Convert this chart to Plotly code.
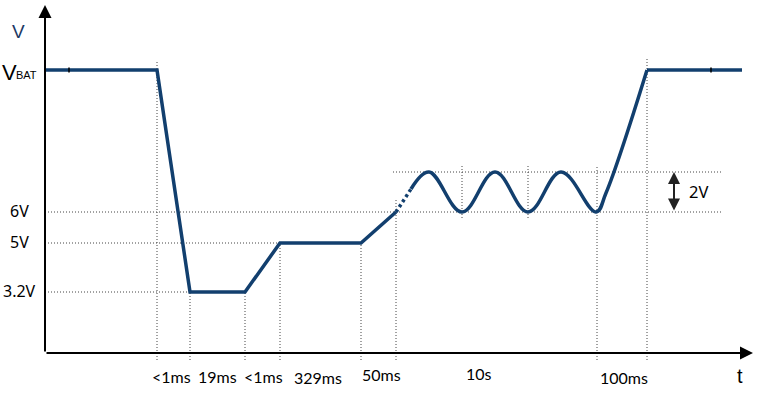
import plotly.graph_objects as go

# ---- schematic data (not to scale: x = time marker positions, y = level heights) ----
seg_labels = ["<1ms", "19ms", "<1ms", "329ms", "50ms", "10s", "100ms"]
seg_label_x = [126, 172, 218, 273, 336, 434, 579]
seg_label_y = [-23, -23, -23, -24.5, -21.5, -20.5, -24]
level_labels = ["3.2V", "5V", "6V"]
level_values = [61, 110, 141]
vbat_level = 283
ripple_top = 181
marker_x = [112, 145, 200, 235, 316, 351, 417, 483, 552, 602]

signal_x = [0, 112, 145, 200, 235, 316, 351]
signal_y = [283, 283, 61, 61, 110, 110, 141]
bridge_x = [351, 366]
bridge_y = [141, 164]
ripple_x = [366, 384, 417, 450, 483, 516, 551, 561, 602]
ripple_y = [164, 181, 141, 181, 141, 181, 141, 160, 283]
recovery_x = [602, 697]
recovery_y = [283, 283]

LINE = "#123f6e"
GRID = "#444444"
DOT = "1px,2px"

fig = go.Figure()
fig.add_trace(go.Scatter(x=signal_x, y=signal_y, mode="lines",
                         line=dict(color=LINE, width=3.5), hoverinfo="skip"))
fig.add_trace(go.Scatter(x=bridge_x, y=bridge_y, mode="lines",
                         line=dict(color=LINE, width=3.5, dash="3px,3px"), hoverinfo="skip"))
fig.add_trace(go.Scatter(x=ripple_x, y=ripple_y, mode="lines",
                         line=dict(color=LINE, width=3.5, shape="spline", smoothing=1.1),
                         hoverinfo="skip"))
fig.add_trace(go.Scatter(x=recovery_x, y=recovery_y, mode="lines",
                         line=dict(color=LINE, width=3.5), hoverinfo="skip"))

shapes = []
def dline(x0, y0, x1, y1):
    shapes.append(dict(type="line", x0=x0, y0=y0, x1=x1, y1=y1, layer="below",
                       line=dict(color=GRID, width=1, dash=DOT)))

# horizontal guides
dline(0, level_values[0], marker_x[1], level_values[0])
dline(0, level_values[1], marker_x[4], level_values[1])
dline(0, level_values[2], 677, level_values[2])
dline(348, ripple_top, 677, ripple_top)

# vertical guides (top end, bottom end)
vert_tops = [293, 61, 61, 110, 110, 155, 188, 188, 188, 294]
vert_bots = [-7, -7, -7, -7, -7, -7, 135, 135, -7, -7]
for xm, yt, yb in zip(marker_x, vert_tops, vert_bots):
    dline(xm, yb, xm, yt)

# small ticks on VBAT line
for xt in [24, 666]:
    shapes.append(dict(type="line", x0=xt, x1=xt, y0=vbat_level - 2.5, y1=vbat_level + 2.5,
                       line=dict(color="black", width=1.5)))

ann = []
# axes with arrows
ann.append(dict(x=0, y=348, ax=0, ay=0, xref="x", yref="y", axref="x", ayref="y",
                showarrow=True, arrowhead=2, arrowsize=1.3, arrowwidth=2, arrowcolor="black",
                text=""))
ann.append(dict(x=708, y=0, ax=0, ay=0, xref="x", yref="y", axref="x", ayref="y",
                showarrow=True, arrowhead=2, arrowsize=1.3, arrowwidth=2, arrowcolor="black",
                text=""))
# 2V double arrow
ann.append(dict(x=629, y=ripple_top, ax=629, ay=level_values[2], xref="x", yref="y",
                axref="x", ayref="y", showarrow=True, arrowhead=2, arrowside="end+start",
                arrowsize=1.2, arrowwidth=2, arrowcolor="#222222", text=""))
ann.append(dict(x=653, y=162, xref="x", yref="y", text="2V", showarrow=False,
                font=dict(family="Noto Sans", size=16.5, color="black")))

FONT_LBL = dict(family="Lato", size=16, color="black")
for t, xl, yl in zip(seg_labels, seg_label_x, seg_label_y):
    ann.append(dict(x=xl, y=yl, xref="x", yref="y", text=t, showarrow=False, font=FONT_LBL))

for t, yl in zip(level_labels, level_values):
    ann.append(dict(x=-26, y=yl + 1, xref="x", yref="y", text=t, showarrow=False,
                    font=dict(family="Noto Sans", size=16, color="black")))

ann.append(dict(x=-27, y=322, xref="x", yref="y", text="V", showarrow=False,
                font=dict(family="Liberation Sans", size=19, color="#203864")))
ann.append(dict(x=-26, y=vbat_level - 2, xref="x", yref="y", text="V", showarrow=False,
                xanchor="right",
                font=dict(family="Liberation Sans", size=22, color="black")))
ann.append(dict(x=-31, y=vbat_level - 5, xref="x", yref="y", text="BAT", showarrow=False,
                xanchor="left",
                font=dict(family="Liberation Sans", size=11, color="black")))
ann.append(dict(x=695, y=-23, xref="x", yref="y", text="t", showarrow=False,
                font=dict(family="Liberation Sans", size=20, color="black")))

fig.update_layout(
    width=762, height=393,
    margin=dict(l=0, r=0, t=0, b=0),
    paper_bgcolor="white", plot_bgcolor="white",
    showlegend=False,
    xaxis=dict(range=[-45, 717], visible=False, fixedrange=True),
    yaxis=dict(range=[-40, 353], visible=False, fixedrange=True),
    shapes=shapes, annotations=ann,
)

fig.write_html("out.html")
